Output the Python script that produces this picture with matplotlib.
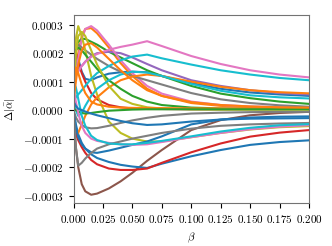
import numpy as np
import matplotlib
matplotlib.use("Agg")
import matplotlib.pyplot as plt
from matplotlib.ticker import FuncFormatter

plt.rcParams['mathtext.fontset'] = 'cm'
plt.rcParams['font.family'] = 'serif'
plt.rcParams['font.serif'] = ['cmr10', 'DejaVu Serif']
plt.rcParams['axes.formatter.use_mathtext'] = True

# beta grid (x) and curves in units of 1e-4
beta = [0, 0.002, 0.004, 0.007, 0.01, 0.015, 0.02, 0.03, 0.04, 0.05, 0.0625, 0.075, 0.1, 0.125, 0.15, 0.175, 0.2]

blue_a = [1.5, 1.9, 1.8, 1.35, 1.1, 1.05, 1.15, 1.28, 1.33, 1.35, 1.33, 1.2, 0.95, 0.75, 0.62, 0.55, 0.5]
orange_a = [0.5, 1.3, 2.0, 2.6, 2.85, 2.88, 2.7, 2.2, 1.65, 1.2, 0.75, 0.5, 0.25, 0.15, 0.11, 0.09, 0.08]
green_a = [1.5, 2.2, 2.4, 2.5, 2.5, 2.4, 2.3, 2.05, 1.85, 1.65, 1.4, 1.2, 0.85, 0.58, 0.42, 0.3, 0.22]
red_a = [2.2, 2.0, 1.7, 1.3, 1.0, 0.6, 0.38, 0.18, 0.1, 0.06, 0.04, 0.04, 0.03, 0.03, 0.03, 0.03, 0.03]
purple = [3.0, 1.6, 1.45, 1.55, 1.7, 1.9, 2.0, 2.05, 2.0, 1.85, 1.62, 1.4, 1.05, 0.85, 0.7, 0.6, 0.55]
brown = [0, -1.3, -2.0, -2.6, -2.85, -2.97, -2.93, -2.75, -2.5, -2.2, -1.78, -1.4, -0.7, -0.35, -0.18, -0.1, -0.06]
pink_a = [0.5, 1.2, 1.8, 2.5, 2.85, 2.95, 2.8, 2.3, 1.75, 1.3, 0.85, 0.58, 0.3, 0.18, 0.13, 0.11, 0.1]
gray_a = [1.0, 2.2, 2.3, 2.2, 2.1, 1.95, 1.8, 1.55, 1.35, 1.2, 1.05, 0.9, 0.6, 0.38, 0.25, 0.17, 0.12]
olive_a = [0.5, 2.5, 2.95, 2.6, 2.1, 1.2, 0.55, -0.4, -0.8, -1.0, -1.1, -1.1, -0.95, -0.8, -0.68, -0.6, -0.56]
cyan_a = [0.3, 0.45, 0.55, 0.7, 0.85, 1.1, 1.3, 1.55, 1.75, 1.88, 1.95, 1.82, 1.6, 1.4, 1.25, 1.13, 1.05]

blue_b = [0, -0.5, -0.85, -1.15, -1.35, -1.55, -1.68, -1.82, -1.92, -1.98, -2.03, -1.88, -1.62, -1.4, -1.22, -1.12, -1.06]
orange_b = [-1.0, -0.95, -0.8, -0.5, -0.2, 0.2, 0.45, 0.8, 1.05, 1.18, 1.25, 1.2, 1.0, 0.82, 0.7, 0.63, 0.59]
green_b = [1.5, 2.1, 2.2, 2.1, 1.95, 1.7, 1.45, 1.05, 0.75, 0.5, 0.3, 0.18, 0.09, 0.06, 0.05, 0.04, 0.04]
red_b = [0, -0.8, -1.05, -1.3, -1.5, -1.75, -1.9, -2.05, -2.1, -2.1, -2.05, -1.85, -1.48, -1.17, -0.93, -0.79, -0.7]
pink_b = [1.0, 1.2, 1.35, 1.55, 1.7, 1.87, 1.97, 2.12, 2.22, 2.3, 2.42, 2.25, 1.9, 1.62, 1.4, 1.25, 1.15]
gray_b = [0, -0.25, -0.4, -0.52, -0.6, -0.64, -0.63, -0.55, -0.45, -0.36, -0.27, -0.2, -0.12, -0.09, -0.07, -0.06, -0.06]
olive_b = [0.5, 2.0, 2.6, 2.75, 2.6, 2.1, 1.6, 0.85, 0.4, 0.22, 0.1, 0.06, 0.03, 0.02, 0.02, 0.02, 0.02]
cyan_b = [0.5, 0.0, -0.2, -0.1, 0.15, 0.5, 0.75, 1.05, 1.25, 1.35, 1.32, 1.2, 0.92, 0.68, 0.52, 0.45, 0.41]

blue_c = [0, -0.6, -0.95, -1.2, -1.35, -1.48, -1.5, -1.42, -1.32, -1.22, -1.1, -0.92, -0.5, -0.33, -0.26, -0.23, -0.22]
orange_c = [1.0, 1.5, 1.3, 0.9, 0.6, 0.3, 0.2, 0.12, 0.09, 0.08, 0.07, 0.07, 0.06, 0.06, 0.06, 0.06, 0.06]
green_c = [0.05, 0.0, -0.05, -0.1, -0.12, -0.1, -0.07, -0.02, 0.0, 0.02, 0.03, 0.03, 0.03, 0.03, 0.03, 0.03, 0.03]
pink_c = [0.8, 0.3, -0.1, -0.55, -0.8, -1.0, -1.08, -1.15, -1.2, -1.22, -1.2, -1.12, -0.95, -0.8, -0.67, -0.58, -0.53]
gray_c = [0, -1.3, -1.95, -1.85, -1.7, -1.5, -1.35, -1.2, -1.1, -1.0, -0.9, -0.8, -0.65, -0.55, -0.5, -0.47, -0.45]
cyan_c = [1.0, 0.8, 0.4, -0.2, -0.55, -0.9, -1.05, -1.17, -1.2, -1.2, -1.15, -1.08, -0.92, -0.75, -0.62, -0.53, -0.49]

blue_d = [0.3, 0.15, 0.05, 0.0, -0.05, -0.12, -0.18, -0.28, -0.38, -0.46, -0.52, -0.5, -0.4, -0.33, -0.3, -0.29, -0.28]
orange_d = [0.3, 1.0, 1.6, 2.1, 2.3, 2.35, 2.2, 1.8, 1.4, 1.05, 0.7, 0.5, 0.28, 0.18, 0.13, 0.1, 0.09]

curves = [
    (blue_a, 'C0'), (orange_a, 'C1'), (green_a, 'C2'), (red_a, 'C3'), (purple, 'C4'),
    (brown, 'C5'), (pink_a, 'C6'), (gray_a, 'C7'), (olive_a, 'C8'), (cyan_a, 'C9'),
    (blue_b, 'C0'), (orange_b, 'C1'), (green_b, 'C2'), (red_b, 'C3'), (pink_b, 'C6'),
    (gray_b, 'C7'), (olive_b, 'C8'), (cyan_b, 'C9'),
    (blue_c, 'C0'), (orange_c, 'C1'), (green_c, 'C2'), (pink_c, 'C6'), (gray_c, 'C7'),
    (cyan_c, 'C9'), (blue_d, 'C0'), (orange_d, 'C1'),
]

fig = plt.figure(figsize=(3.32, 2.46), dpi=100)
ax = fig.add_axes([0.2214, 0.1748, 0.7093, 0.7642])

b = np.array(beta)
for vals, col in curves:
    ax.plot(b, np.array(vals) * 1e-4, color=col, lw=1.5)

ax.set_xlim(0, 0.2)
ax.set_ylim(-0.000326, 0.000334)
ax.set_xticks(np.arange(0, 0.2001, 0.025))
ax.set_yticks(np.arange(-0.0003, 0.00031, 0.0001))
ax.xaxis.set_major_formatter(FuncFormatter(lambda v, p: '$%.3f$' % v))
ax.yaxis.set_major_formatter(FuncFormatter(lambda v, p: '$%.4f$' % (0 if abs(v) < 1e-9 else v)))
ax.tick_params(labelsize=8, length=3.5, width=0.8)
for s in ax.spines.values():
    s.set_color('0.45')
    s.set_linewidth(0.8)

ax.set_xlabel(r'$\beta$', fontsize=8)
ax.set_ylabel(r'$\Delta|\bar{\alpha}|$', fontsize=8)

fig.savefig('out.png', dpi=100)
